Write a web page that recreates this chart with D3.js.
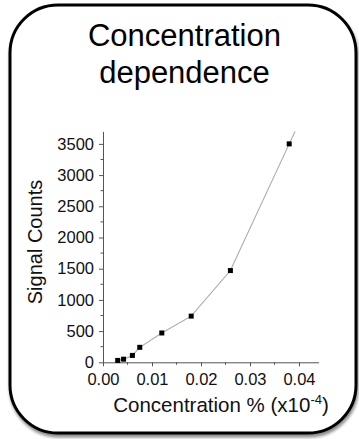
<!DOCTYPE html>
<html>
<head>
<meta charset="utf-8">
<script src="https://cdn.jsdelivr.net/npm/d3@7"></script>
<style>
  html, body { margin: 0; padding: 0; background: #fff; }
  svg { display: block; font-family: "Liberation Sans", Arial, sans-serif; }
</style>
</head>
<body>
<svg id="chart" width="359" height="439"></svg>
<script>
// Concentration (% x10^-4) and measured signal counts
const concentration = [0.003, 0.0042, 0.006, 0.0075, 0.012, 0.018, 0.026, 0.038];
const signalCounts  = [30, 50, 110, 240, 470, 740, 1470, 3500];
// Trend line continues past the last sample and is clipped at the plot edge
const trendTailX = 0.0404;
const trendTailY = 3900;

const xTicks = [0, 0.01, 0.02, 0.03, 0.04];
const xMinorTicks = [0.005, 0.015, 0.025, 0.035];
const yTicks = [0, 500, 1000, 1500, 2000, 2500, 3000, 3500];
const yMinorTicks = [250, 750, 1250, 1750, 2250, 2750, 3250];

const svg = d3.select("#chart");
const FONT = "Liberation Sans, Arial, sans-serif";

// Drop shadow for the rounded frame
const defs = svg.append("defs");
const f = defs.append("filter").attr("id", "shadow")
  .attr("x", "-10%").attr("y", "-10%").attr("width", "120%").attr("height", "120%");
f.append("feDropShadow").attr("dx", 1).attr("dy", 3).attr("stdDeviation", 1.6)
  .attr("flood-color", "#000").attr("flood-opacity", 0.45);

svg.append("rect")
  .attr("x", 10).attr("y", 5).attr("width", 346).attr("height", 428)
  .attr("rx", 48).attr("ry", 48)
  .attr("fill", "#fff").attr("stroke", "#000").attr("stroke-width", 3)
  .attr("filter", "url(#shadow)");

// Title
const title = svg.append("text")
  .attr("text-anchor", "middle").attr("font-size", 31).attr("fill", "#000");
title.append("tspan").attr("x", 184.5).attr("y", 46).text("Concentration");
title.append("tspan").attr("x", 184.5).attr("y", 83).text("dependence");

// Scales
const x = d3.scaleLinear().domain([0, 0.044]).range([103, 318.6]);
const y = d3.scaleLinear().domain([0, 3700]).range([362.3, 131.4]);

const axisColor = "#555";

// X axis
const gx = svg.append("g").attr("transform", `translate(0,${y(0)})`);
gx.call(d3.axisBottom(x).tickValues(xTicks).tickFormat(d3.format(".2f"))
  .tickSizeInner(4).tickSizeOuter(0).tickPadding(7));
gx.select(".domain").attr("stroke", axisColor);
gx.selectAll(".tick line").attr("stroke", axisColor);
gx.selectAll(".tick text").attr("font-size", 16.5).attr("fill", "#111")
  .attr("font-family", FONT);
gx.selectAll(".minor").data(xMinorTicks).enter().append("line")
  .attr("class", "minor")
  .attr("x1", d => x(d)).attr("x2", d => x(d))
  .attr("y1", 0).attr("y2", 2.5).attr("stroke", axisColor);

// Y axis
const gy = svg.append("g").attr("transform", `translate(${x(0)},0)`);
gy.call(d3.axisLeft(y).tickValues(yTicks).tickFormat(d3.format("d"))
  .tickSizeInner(4).tickSizeOuter(0).tickPadding(5));
gy.select(".domain").attr("stroke", axisColor);
gy.selectAll(".tick line").attr("stroke", axisColor);
gy.selectAll(".tick text").attr("font-size", 16.5).attr("fill", "#111")
  .attr("font-family", FONT);
gy.selectAll(".minor").data(yMinorTicks).enter().append("line")
  .attr("class", "minor")
  .attr("y1", d => y(d)).attr("y2", d => y(d))
  .attr("x1", 0).attr("x2", -2.5).attr("stroke", axisColor);

// Axis titles
svg.append("text")
  .attr("transform", `translate(42,242) rotate(-90)`)
  .attr("text-anchor", "middle").attr("font-size", 20).attr("fill", "#111")
  .text("Signal Counts");

const xl = svg.append("text")
  .attr("x", 221).attr("y", 412).attr("text-anchor", "middle")
  .attr("font-size", 20.5).attr("fill", "#111");
xl.append("tspan").text("Concentration % (x10");
xl.append("tspan").attr("font-size", 13).attr("dy", -8).text("-4");
xl.append("tspan").attr("dy", 8).text(")");

// Clip the connecting line to the plot area
defs.append("clipPath").attr("id", "plot")
  .append("rect").attr("x", x(0)).attr("y", y(3700))
  .attr("width", x(0.044) - x(0)).attr("height", y(0) - y(3700));

const points = concentration.map((c, i) => [c, signalCounts[i]]);
const linePts = points.concat([[trendTailX, trendTailY]]);

svg.append("path")
  .datum(linePts)
  .attr("clip-path", "url(#plot)")
  .attr("fill", "none").attr("stroke", "#aaa").attr("stroke-width", 1.1)
  .attr("d", d3.line().x(d => x(d[0])).y(d => y(d[1])));

// Markers
const s = 5;
svg.append("g").selectAll("rect")
  .data(points)
  .enter().append("rect")
  .attr("x", d => x(d[0]) - s / 2).attr("y", d => y(d[1]) - s / 2)
  .attr("width", s).attr("height", s).attr("fill", "#000");
</script>
</body>
</html>
